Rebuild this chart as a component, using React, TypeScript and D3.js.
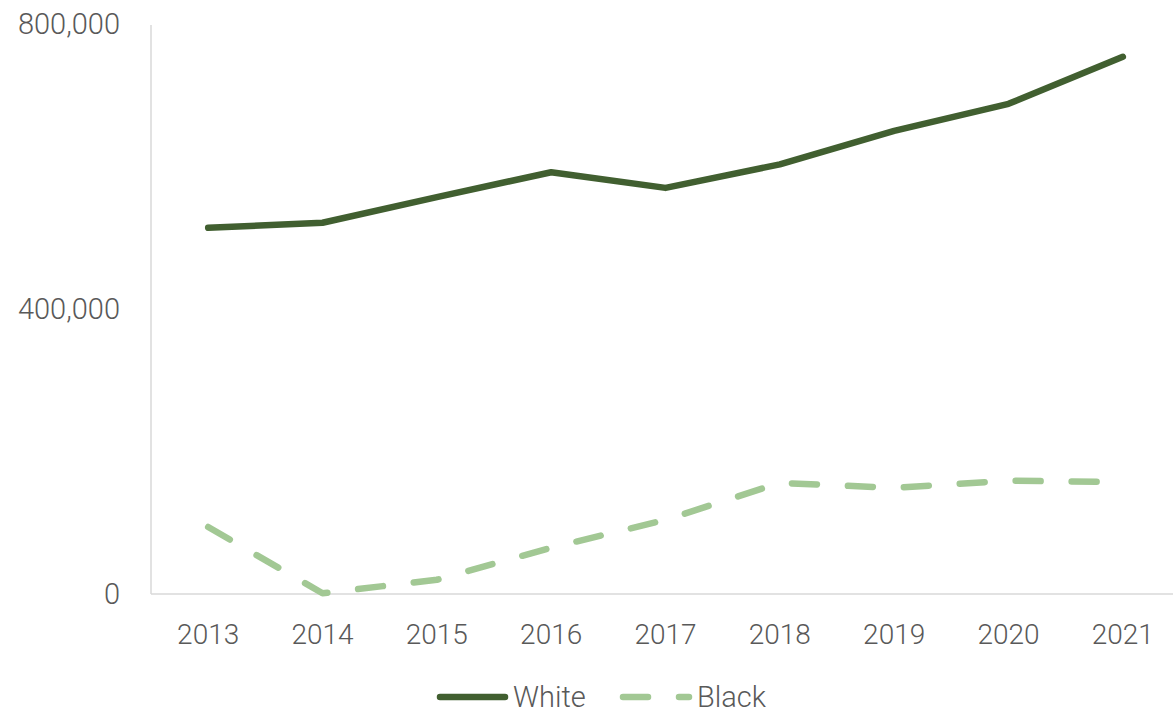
import React from 'react'
import * as d3 from 'd3'

const years = ['2013', '2014', '2015', '2016', '2017', '2018', '2019', '2020', '2021']
const white = [514000, 521000, 557000, 592000, 570000, 603000, 650000, 688000, 754000]
const black = [94000, 1000, 20000, 65000, 104000, 156000, 149000, 159000, 157000]
const yTicks = [0, 400000, 800000]

const W = 1175
const H = 714
const left = 151
const right = 1173
const top = 24
const bottom = 594

const darkGreen = '#415f30'
const lightGreen = '#a2c894'
const textColor = '#595959'
const axisColor = '#d9d9d9'
const font = 'Roboto, "DejaVu Sans", sans-serif'

export default function App() {
  // category centres run from ~208 to ~1123
  const x = d3.scalePoint().domain(years).range([left, 1180]).padding(0.5)
  const y = d3.scaleLinear().domain([0, 800000]).range([bottom, top])
  const line = d3
    .line<number>()
    .x((_, i) => x(years[i]) as number)
    .y((d) => y(d))
  const fmt = d3.format(',')

  return (
    <svg width={W} height={H} style={{position: 'absolute', left: 0, top: 0}} fontFamily={font}>
      <rect width={W} height={H} fill="#fff" />
      {/* axes */}
      <line x1={left} x2={left} y1={top + 1} y2={bottom} stroke={axisColor} strokeWidth={1.5} />
      <line x1={left} x2={right} y1={bottom} y2={bottom} stroke={axisColor} strokeWidth={1.5} />
      {yTicks.map((t) => (
        <text key={t} x={120} y={y(t)} textAnchor="end" dominantBaseline="central" fontSize={29} fill={textColor} fontWeight={300}>
          {fmt(t)}
        </text>
      ))}
      {years.map((yr) => (
        <text key={yr} x={x(yr)} y={634} textAnchor="middle" dominantBaseline="central" fontSize={28} fill={textColor} fontWeight={300}>
          {yr}
        </text>
      ))}
      {/* series */}
      <path d={line(white) || ''} fill="none" stroke={darkGreen} strokeWidth={6.5} strokeLinecap="round" strokeLinejoin="round" />
      <path d={line(black) || ''} fill="none" stroke={lightGreen} strokeWidth={6.5} strokeLinecap="round" strokeLinejoin="round" strokeDasharray="25 31" />
      {/* legend */}
      <line x1={440} x2={505} y1={697} y2={697} stroke={darkGreen} strokeWidth={6.5} strokeLinecap="round" />
      <text x={513} y={697} dominantBaseline="central" fontSize={29} fill={textColor} fontWeight={300}>
        White
      </text>
      <line x1={623} x2={689} y1={697} y2={697} stroke={lightGreen} strokeWidth={6.5} strokeLinecap="round" strokeDasharray="25 31" />
      <text x={697} y={697} dominantBaseline="central" fontSize={29} fill={textColor} fontWeight={300}>
        Black
      </text>
    </svg>
  )
}
